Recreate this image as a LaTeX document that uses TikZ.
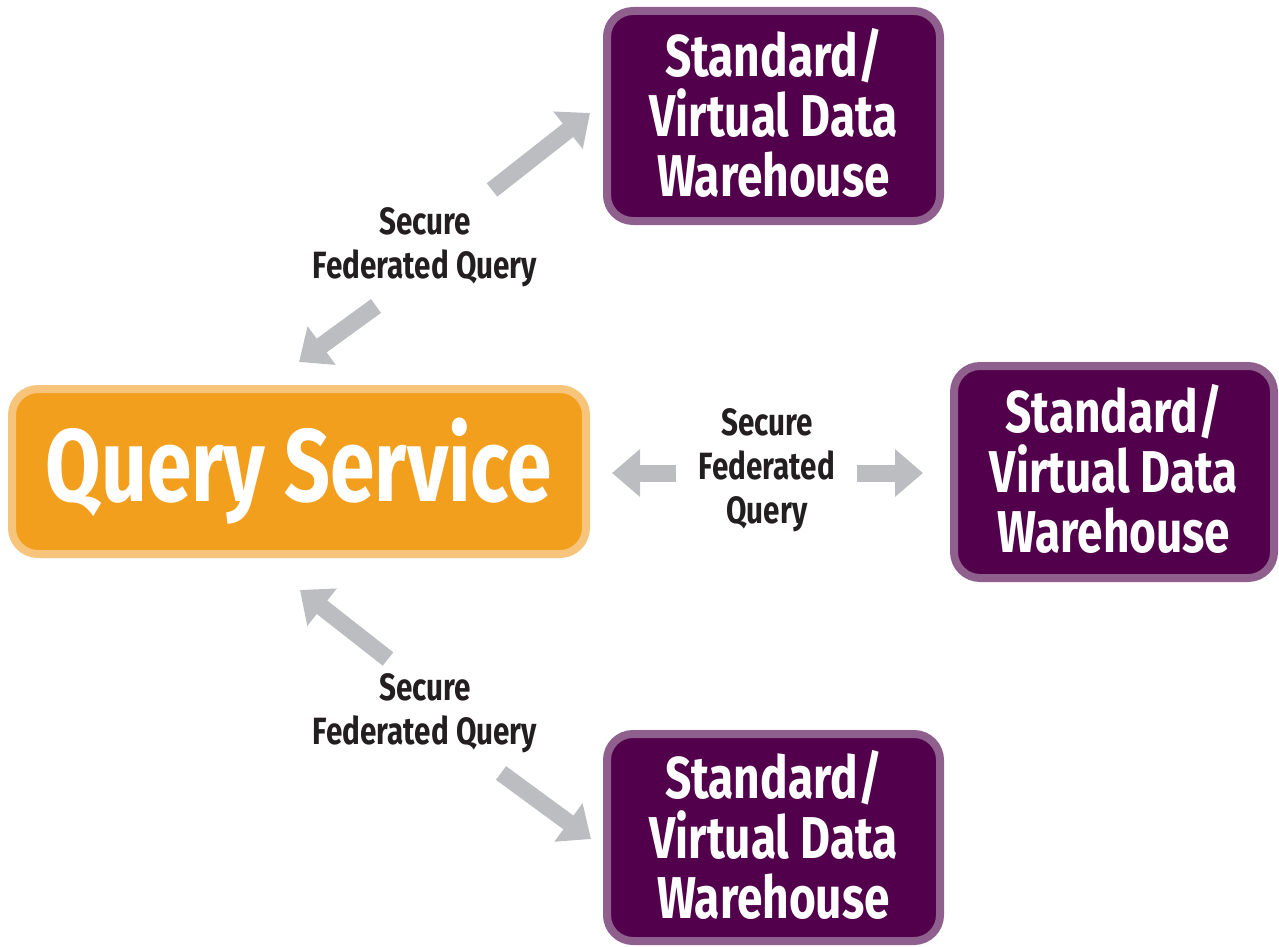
\documentclass[tikz,border=0pt]{standalone}
\usepackage{fontspec}
\setmainfont[FakeStretch=0.78]{Fira Sans}
\usetikzlibrary{arrows.meta}
\definecolor{qfill}{HTML}{F39F1E}
\definecolor{qborder}{HTML}{F6C47A}
\definecolor{pfill}{HTML}{52004B}
\definecolor{pborder}{HTML}{8F5F8D}
\definecolor{agray}{HTML}{BCBDC0}
\definecolor{ltext}{HTML}{231F20}
\tikzset{
  qbox/.style={draw=qborder, fill=qfill, line width=8pt, rounded corners=26pt,
    minimum width=574pt, minimum height=165pt, text=white, inner sep=0pt,
    font=\fontsize{103}{106}\selectfont\bfseries},
  pbox/.style={draw=pborder, fill=pfill, line width=8pt, rounded corners=26pt,
    text=white, inner sep=0pt, align=center,
    font=\fontsize{59}{60}\selectfont\bfseries},
  lbl/.style={text=ltext, align=center, inner sep=0pt,
    font=\fontsize{38}{44}\selectfont\bfseries},
  garrow/.style={draw=agray, line width=17pt,
    -{Triangle[width=46pt,length=28pt]}},
}
\begin{document}
\begin{tikzpicture}[x=1pt,y=-1pt]
\useasboundingbox (0,0) rectangle (1279,947);
\node[qbox] (qs) at (299,471.5) {Query Service};
\node[pbox, minimum width=333pt, minimum height=210pt] (dw1) at (773.5,116) {Standard/\\Virtual Data\\Warehouse\rule[-7pt]{0pt}{1pt}};
\node[pbox, minimum width=320pt, minimum height=212pt] (dw2) at (1114,472) {Standard/\\Virtual Data\\Warehouse\rule[-7pt]{0pt}{1pt}};
\node[pbox, minimum width=333pt, minimum height=207pt] (dw3) at (773.5,837.5) {Standard/\\Virtual Data\\Warehouse\rule[-7pt]{0pt}{1pt}};
\node[lbl] (l1) at (425,247) {Secure\\Federated Query};
\node[lbl] (l2) at (767,470) {Secure\\Federated\\Query};
\node[lbl] (l3) at (425,713) {Secure\\Federated Query};
% arrow coordinates
\coordinate (a1s) at (492,190);
\coordinate (a1e) at (590,113);
\coordinate (a2s) at (376,306);
\coordinate (a2e) at (299,362);
\coordinate (a3s) at (676,473);
\coordinate (a3e) at (612,473);
\coordinate (a4s) at (857,473);
\coordinate (a4e) at (923,473);
\coordinate (a5s) at (388,659);
\coordinate (a5e) at (300,590);
\coordinate (a6s) at (501,773);
\coordinate (a6e) at (591,839);
\draw[garrow] (a1s) -- (a1e);
\draw[garrow] (a2s) -- (a2e);
\draw[garrow] (a3s) -- (a3e);
\draw[garrow] (a4s) -- (a4e);
\draw[garrow] (a5s) -- (a5e);
\draw[garrow] (a6s) -- (a6e);
\end{tikzpicture}
\end{document}
